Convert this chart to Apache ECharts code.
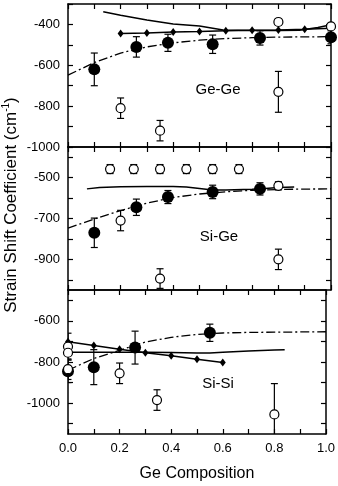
<!DOCTYPE html>
<html>
<head>
<meta charset="utf-8">
<script src="https://cdn.jsdelivr.net/npm/echarts@6/dist/echarts.min.js"></script>
<style>
html,body{margin:0;padding:0;background:#fff;}
#chart{width:338px;height:486px;}
</style>
</head>
<body>
<div id="chart"></div>
<script>
// ---------- tick values ----------
const xTickValues = [0, 0.1, 0.2, 0.3, 0.4, 0.5, 0.6, 0.7, 0.8, 0.9, 1.0];
const xLabelValues = [0, 0.2, 0.4, 0.6, 0.8, 1.0];
const panelNames = ['Ge-Ge', 'Si-Ge', 'Si-Si'];
const yRanges = [[-1000, -300], [-1050, -350], [-1150, -450]];
const yTickValues = [
  [-1000, -900, -800, -700, -600, -500, -400, -300],
  [-1000, -900, -800, -700, -600, -500, -400],
  [-1100, -1000, -900, -800, -700, -600, -500]
];
const yLabelValues = [
  [-1000, -800, -600, -400],
  [-900, -700, -500],
  [-1000, -800, -600]
];

// ---------- Ge-Ge ----------
const geGeFilledX = [0.1, 0.26, 0.38, 0.55, 0.73, 1.0];
const geGeFilledY = [-620, -510, -490, -497, -466, -463];
const geGeFilledErr = [80, 50, 42, 45, 35, 32];
const geGeOpenX = [0.2, 0.35, 0.8, 0.8, 1.0];
const geGeOpenY = [-810, -920, -388, -730, -410];
const geGeOpenErr = [50, 50, 15, 100, 15];
const geGeDiamondX = [0.2, 0.3, 0.4, 0.5, 0.6, 0.7, 0.8, 0.9, 1.0];
const geGeDiamondY = [-444, -442, -437, -435, -431, -429, -427, -424, -419];
const geGeSolidX = [0.134, 0.2, 0.3, 0.4, 0.5, 0.59, 0.7, 0.8, 0.88, 0.95, 1.0];
const geGeSolidY = [-338, -355, -378, -398, -408, -427, -430, -430, -428, -415, -402];
const geGeFitX = [0, 0.1, 0.2, 0.3, 0.4, 0.5, 0.6, 0.7, 0.8, 0.9, 1.0];
const geGeFitY = [-648, -587, -540, -510, -490, -477, -469, -465, -462, -461, -460];

// ---------- Si-Ge ----------
const siGeFilledX = [0.1, 0.26, 0.38, 0.55, 0.73];
const siGeFilledY = [-770, -645, -595, -570, -555];
const siGeFilledErr = [72, 40, 32, 33, 30];
const siGeOpenX = [0.16, 0.25, 0.35, 0.45, 0.55, 0.65, 0.2, 0.35, 0.8, 0.8];
const siGeOpenY = [-458, -458, -458, -458, -458, -458, -710, -994, -540, -900];
const siGeOpenErr = [22, 22, 22, 22, 22, 22, 50, 48, 20, 50];
const siGeSolidX = [0.072, 0.12, 0.2, 0.3, 0.4, 0.45, 0.5, 0.55, 0.6, 0.7, 0.75, 0.8, 0.86];
const siGeSolidY = [-555, -548, -545, -543, -543, -546, -553, -560, -560, -557, -553, -548, -546];
const siGeFitX = [0, 0.1, 0.2, 0.3, 0.4, 0.5, 0.6, 0.7, 0.8, 0.9, 1.0];
const siGeFitY = [-747, -703, -661, -625, -597, -580, -569, -562, -558, -556, -555];

// ---------- Si-Si ----------
const siSiFilledX = [0, 0.1, 0.26, 0.55];
const siSiFilledY = [-845, -825, -730, -658];
const siSiFilledErr = [55, 85, 80, 42];
const siSiOpenX = [0, 0, 0, 0.2, 0.345, 0.8];
const siSiOpenY = [-725, -755, -835, -855, -985, -1055];
const siSiOpenErr = [65, 0, 50, 50, 50, 150];
const siSiDiamondX = [0, 0.1, 0.2, 0.3, 0.4, 0.5, 0.6];
const siSiDiamondY = [-702, -720, -738, -755, -770, -787, -802];
const siSiSolidX = [0, 0.1, 0.2, 0.3, 0.4, 0.5, 0.55, 0.6, 0.7, 0.8, 0.84];
const siSiSolidY = [-752, -752, -752, -753, -754, -756, -756, -753, -747, -742, -740];
const siSiFitX = [0, 0.1, 0.2, 0.3, 0.4, 0.5, 0.6, 0.7, 0.8, 0.9, 1.0];
const siSiFitY = [-840, -783, -743, -703, -680, -666, -659, -656, -655, -654, -653];

// ---------- build ----------
const FONT = '"Liberation Sans", Arial, Helvetica, sans-serif';
const pairs = (xs, ys) => xs.map((x, i) => [x, ys[i]]);
const triples = (xs, ys, es) => xs.map((x, i) => [x, ys[i], es[i]]);

const panels = [
  {filled: triples(geGeFilledX, geGeFilledY, geGeFilledErr), open: triples(geGeOpenX, geGeOpenY, geGeOpenErr),
   diamond: pairs(geGeDiamondX, geGeDiamondY), solid: pairs(geGeSolidX, geGeSolidY), fit: pairs(geGeFitX, geGeFitY)},
  {filled: triples(siGeFilledX, siGeFilledY, siGeFilledErr), open: triples(siGeOpenX, siGeOpenY, siGeOpenErr),
   diamond: null, solid: pairs(siGeSolidX, siGeSolidY), fit: pairs(siGeFitX, siGeFitY)},
  {filled: triples(siSiFilledX, siSiFilledY, siSiFilledErr), open: triples(siSiOpenX, siSiOpenY, siSiOpenErr),
   diamond: pairs(siSiDiamondX, siSiDiamondY), solid: pairs(siSiSolidX, siSiSolidY), fit: pairs(siSiFitX, siSiFitY)}
];

const gridTops = [4, 147, 290];
const gridHeights = [143, 143, 144];
const grids = [], xAxes = [], yAxes = [], series = [];
const axisLine = {show: true, onZero: false, lineStyle: {color: '#000', width: 1.5}};

function errRender(params, api) {
  const x = api.value(0), y = api.value(1), e = api.value(2);
  if (!e) return null;
  const t = api.coord([x, y + e]);
  const b = api.coord([x, y - e]);
  const w = 3.5;
  const st = {stroke: '#000', lineWidth: 1.2, fill: null};
  return {type: 'group', children: [
    {type: 'line', shape: {x1: t[0], y1: t[1], x2: b[0], y2: b[1]}, style: st},
    {type: 'line', shape: {x1: t[0] - w, y1: t[1], x2: t[0] + w, y2: t[1]}, style: st},
    {type: 'line', shape: {x1: b[0] - w, y1: b[1], x2: b[0] + w, y2: b[1]}, style: st}
  ]};
}

panels.forEach((p, i) => {
  grids.push({left: 68, width: 263, top: gridTops[i], height: gridHeights[i], show: false});
  const isBottom = i === 2;
  xAxes.push({
    type: 'value', gridIndex: i, position: 'bottom', min: 0, max: 1,
    axisLine: axisLine, splitLine: {show: false},
    axisTick: {show: true, inside: true, length: 5, lineStyle: {color: '#000', width: 1.2}, customValues: xTickValues},
    axisLabel: {show: isBottom, customValues: xLabelValues, margin: 8, color: '#000', fontSize: 13, fontFamily: FONT,
      formatter: v => Number(v).toFixed(1)},
    name: isBottom ? 'Ge Composition' : '', nameLocation: 'middle', nameGap: 32,
    nameTextStyle: {color: '#000', fontSize: 16, fontFamily: FONT}
  });
  xAxes.push({
    type: 'value', gridIndex: i, position: 'top', min: 0, max: 1,
    axisLine: axisLine, splitLine: {show: false},
    axisTick: {show: true, inside: true, length: 5, lineStyle: {color: '#000', width: 1.2}, customValues: xTickValues},
    axisLabel: {show: false}
  });
  yAxes.push({
    type: 'value', gridIndex: i, position: 'left', min: yRanges[i][0], max: yRanges[i][1],
    axisLine: axisLine, splitLine: {show: false},
    axisTick: {show: true, inside: true, length: 5, lineStyle: {color: '#000', width: 1.2}, customValues: yTickValues[i]},
    axisLabel: {show: true, customValues: yLabelValues[i], margin: 8, color: '#000', fontSize: 13, fontFamily: FONT,
      formatter: v => String(Math.round(Number(v)))}
  });
  yAxes.push({
    type: 'value', gridIndex: i, position: 'right', min: yRanges[i][0], max: yRanges[i][1],
    axisLine: axisLine, splitLine: {show: false},
    axisTick: {show: true, inside: true, length: 5, lineStyle: {color: '#000', width: 1.2}, customValues: yTickValues[i]},
    axisLabel: {show: false}
  });
  const xi = 2 * i, yi = 2 * i;
  series.push({type: 'line', xAxisIndex: xi, yAxisIndex: yi, data: p.fit, showSymbol: false, symbol: 'none',
    lineStyle: {color: '#000', width: 1.3, type: [9, 3, 2, 3]}, silent: true, z: 2});
  series.push({type: 'line', xAxisIndex: xi, yAxisIndex: yi, data: p.solid, showSymbol: false, symbol: 'none',
    lineStyle: {color: '#000', width: 1.5}, silent: true, z: 2});
  if (p.diamond) {
    series.push({type: 'line', xAxisIndex: xi, yAxisIndex: yi, data: p.diamond, symbol: 'diamond', symbolSize: [6, 8],
      showSymbol: true, itemStyle: {color: '#000', opacity: 1}, lineStyle: {color: '#000', width: 1.5}, silent: true, z: 3});
  }
  series.push({type: 'custom', xAxisIndex: xi, yAxisIndex: yi, data: p.filled, renderItem: errRender, clip: true, silent: true, z: 4});
  series.push({type: 'custom', xAxisIndex: xi, yAxisIndex: yi, data: p.open, renderItem: errRender, clip: true, silent: true, z: 4});
  series.push({type: 'scatter', xAxisIndex: xi, yAxisIndex: yi, data: p.filled.map(d => [d[0], d[1]]),
    symbol: 'circle', symbolSize: 12, itemStyle: {color: '#000', opacity: 1}, clip: false, silent: true, z: 5});
  series.push({type: 'scatter', xAxisIndex: xi, yAxisIndex: yi, data: p.open.map(d => [d[0], d[1]]),
    symbol: 'circle', symbolSize: 9, itemStyle: {color: '#fff', borderColor: '#000', borderWidth: 1.2, opacity: 1}, clip: false, silent: true, z: 6});
});

const labelPos = [[218, 90], [219, 237], [218, 384]];
const graphics = panelNames.map((n, i) => ({
  type: 'text', x: labelPos[i][0], y: labelPos[i][1], z: 10,
  style: {text: n, fill: '#000', fontSize: 15, fontFamily: FONT, align: 'center', verticalAlign: 'middle'}
}));
graphics.push({
  type: 'text', x: 11, y: 205, rotation: Math.PI / 2, z: 10,
  style: {
    text: '{n|Strain Shift Coefficient (cm}{s|-1}{n|)}',
    align: 'center', verticalAlign: 'middle', fill: '#000',
    rich: {
      n: {fontSize: 17, fontFamily: FONT, fill: '#000', lineHeight: 20},
      s: {fontSize: 10, fontFamily: FONT, fill: '#000', verticalAlign: 'top', lineHeight: 20}
    }
  }
});

const chart = echarts.init(document.getElementById('chart'), null, {renderer: 'canvas'});
chart.setOption({
  animation: false,
  backgroundColor: '#fff',
  grid: grids, xAxis: xAxes, yAxis: yAxes, series: series, graphic: graphics
});
</script>
</body>
</html>
